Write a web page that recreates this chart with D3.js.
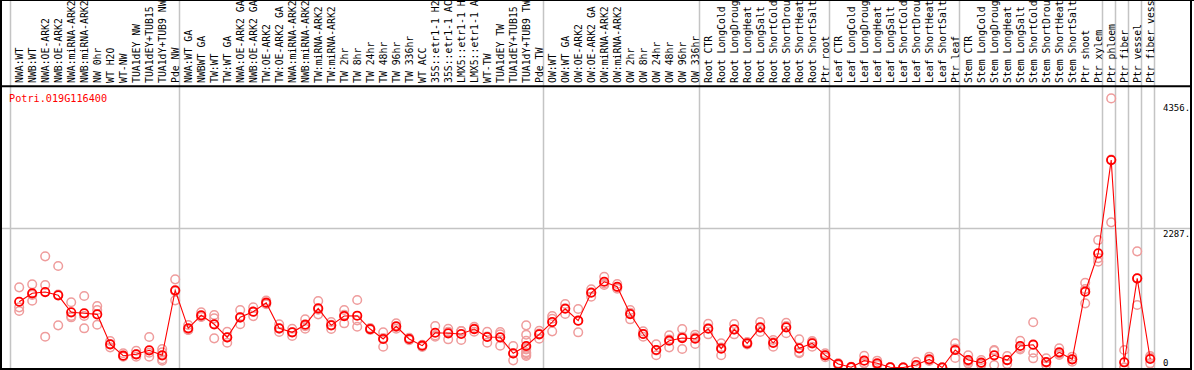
<!DOCTYPE html>
<html><head><meta charset="utf-8">
<script src="https://cdn.jsdelivr.net/npm/d3@7"></script>
<style>
body{margin:0;background:#fff}
svg{display:block}
text{font-family:"DejaVu Sans Mono",monospace}
</style>
</head><body><svg id="c" width="1194" height="370"></svg>
<script>
const title = "Potri.019G116400";
const categories = [
"NWA:WT","NWB:WT","NWA:OE-ARK2","NWB:OE-ARK2","NWA:miRNA-ARK2","NWB:miRNA-ARK2","NW 0hr","WT H2O","WT-NW","TUA1dEY NW","TUA1dEY+TUB15","TUA1dY+TUB9 NW","Pde NW",
"NWA:WT GA","NWBWT GA","TW:WT","TW:WT GA","NWA:OE-ARK2 GA","NWB:OE-ARK2 GA","TW:OE-ARK2","TW:OE-ARK2 GA","NWA:miRNA-ARK2","NWB:miRNA-ARK2","TW:miRNA-ARK2","TW:miRNA-ARK2","TW 2hr","TW 8hr","TW 24hr","TW 48hr","TW 96hr","TW 336hr","WT ACC","35S::etr1-1 H2","35S::etr1-1 AC","LMX5::etr1-1 H","LMX5::etr1-1 A","WT-TW","TUA1dEY TW","TUA1dEY+TUB15","TUA1dY+TUB9 TW","Pde TW",
"OW:WT","OW:WT GA","OW:OE-ARK2","OW:OE-ARK2 GA","OW:miRNA-ARK2","OW:miRNA-ARK2","OW 2hr","OW 8hr","OW 24hr","OW 48hr","OW 96hr","OW 336hr",
"Root CTR","Root LongCold","Root LongDroug","Root LongHeat","Root LongSalt","Root ShortCold","Root ShortDrou","Root ShortHeat","Root ShortSalt","Ptr root",
"Leaf CTR","Leaf LongCold","Leaf LongDroug","Leaf LongHeat","Leaf LongSalt","Leaf ShortCold","Leaf ShortDrou","Leaf ShortHeat","Leaf ShortSalt","Ptr leaf",
"Stem CTR","Stem LongCold","Stem LongDroug","Stem LongHeat","Stem LongSalt","Stem ShortCold","Stem ShortDrou","Stem ShortHeat","Stem ShortSalt","Ptr shoot","Ptr xylem",
"Ptr phloem","Ptr fiber","Ptr vessel","Ptr fiber vess"
];
const groupStarts = [0,13,41,53,63,73,84,85,86,87,88];
const meanValues = [
1082,1221,1242,1188,908,892,875,382,194,217,283,201,1270,
645,859,711,497,826,918,1066,645,579,704,974,694,847,852,633,469,678,469,359,572,563,551,633,502,497,234,354,546,
748,967,770,1230,1411,1329,880,551,288,441,485,474,
638,309,628,398,661,403,661,316,398,201,
58,5,112,69,3,0,41,135,0,288,
123,79,201,123,354,375,90,250,135,1247,1879,
3413,86,1467,140
];
const replicateValues = [
[1319,990,929],[1369,1099,1195],[1829,1357,507],[1670,694,1200],[1073,826,847],[1176,645,847],[1012,704,946],[436,332,382],[234,178,194],[276,178,217],[502,178,243],[304,135,112,250],[1451,1105,1254],
[699,617,619],[908,836,833],[864,809,480],[589,408,494],[946,711,821],[990,918,846],[1100,1040,1058],[711,584,640],[638,518,581],[793,638,681],[1094,875,953],[748,633,701],[946,727,868],[1110,671,775],[650,620,630],[579,342,486],[727,638,669],[490,450,467],[375,340,362],[683,507,526],[638,464,587],[600,452,601],[671,589,639],[589,408,509],[584,359,548],[354,118,230],[694,540,441,299,234,189,210,250,330],[605,474,559],
[847,595,802],[1045,880,976],[962,579,769],[1286,1165,1239],[1494,1357,1382],[1374,1296,1317],[946,793,901],[595,507,551],[382,201,281],[530,332,461],[633,507,304],[540,387,495],
[720,546,648],[398,201,328],[715,546,623],[420,380,394],[748,584,651],[452,342,415],[737,563,683],[464,234,250],[436,342,416],[234,168,201],
[70,40,64],[0,10,5],[194,70,72],[112,40,55],[0,5,4],[0,0,0],[95,20,8],[178,120,107],[0,5,0],[398,156,310],
[201,69,99],[123,41,73],[288,41,274],[189,58,122],[441,299,322],[744,243,151],[151,41,78],[316,206,228],[178,95,132],[1395,1056,1290],[2097,1740,1800],
[4428,2389,3422],[288,0,0],[1911,1028,1462],[189,69,162]
];
const yTickValues = [4356, 2287, 0];
const gridValues = [2287];

const W = 1194, H = 370;
const svg = d3.select("#c");
const headerBottom = 86.3, plotBottom = 369;
const x = d3.scaleBand().domain(d3.range(categories.length + 1)).range([10.5, 10.5 + 13 * (categories.length + 1)]);
const ptOff = 8.7;
const px = i => x(i) + ptOff;
const y = d3.scaleLinear().domain([0, 4356]).range([367.5, 102.8]);

svg.append("defs").append("clipPath").attr("id","pc")
  .append("rect").attr("x",2).attr("y",headerBottom+1).attr("width",1188).attr("height",plotBottom-headerBottom-2);

// horizontal grid
svg.selectAll("line.hg").data(gridValues).join("line")
  .attr("x1",2).attr("x2",1191).attr("y1",d=>y(d)).attr("y2",d=>y(d))
  .attr("stroke","#c4c4c4").attr("stroke-width",1.5);

// vertical group lines
svg.selectAll("line.vg").data(groupStarts).join("line")
  .attr("x1",d=>x(d)).attr("x2",d=>x(d)).attr("y1",0).attr("y2",plotBottom)
  .attr("stroke","#c4c4c4").attr("stroke-width",1.5);

// header labels
svg.append("g").selectAll("text").data(categories).join("text")
  .attr("transform",(d,i)=>`translate(${px(i)+3.6},83) rotate(-90)`)
  .attr("font-size",9.8).attr("fill","#000").text(d=>d);

// title
svg.append("text").attr("x",9).attr("y",101.5).attr("font-size",10.2).attr("fill","#ff0000").text(title);

// y labels
svg.append("g").selectAll("text").data(yTickValues).join("text")
  .attr("x",1163).attr("y",d=>Math.min(y(d)+8,366)).attr("font-size",9).attr("fill","#000")
  .text(d=> d===0 ? "0" : d + ".");

const plot = svg.append("g").attr("clip-path","url(#pc)");
// replicates
const reps = [];
replicateValues.forEach((arr,i)=>arr.forEach(v=>reps.push({i,v})));
plot.append("g").selectAll("circle").data(reps).join("circle")
  .attr("cx",d=>px(d.i)).attr("cy",d=>y(d.v)).attr("r",4.3)
  .attr("fill","none").attr("stroke","#ef9c9c").attr("stroke-width",1.5);
// mean line
plot.append("path").datum(meanValues)
  .attr("d", d3.line().x((d,i)=>px(i)).y(d=>y(d)))
  .attr("fill","none").attr("stroke","#ff0000").attr("stroke-width",1.1);
plot.append("g").selectAll("circle").data(meanValues).join("circle")
  .attr("cx",(d,i)=>px(i)).attr("cy",d=>y(d)).attr("r",4.2)
  .attr("fill","none").attr("stroke","#ff0000").attr("stroke-width",1.8);

// frame
const blk = (x1,y1,x2,y2,w)=>svg.append("line").attr("x1",x1).attr("y1",y1).attr("x2",x2).attr("y2",y2).attr("stroke","#000").attr("stroke-width",w);
blk(0,0.5,W,0.5,1);
blk(0,headerBottom,1192,headerBottom,2);
blk(1,0,1,H,2);
blk(1191,0,1191,H,2);
blk(0,369,1192,369,2);
</script>
</body></html>
